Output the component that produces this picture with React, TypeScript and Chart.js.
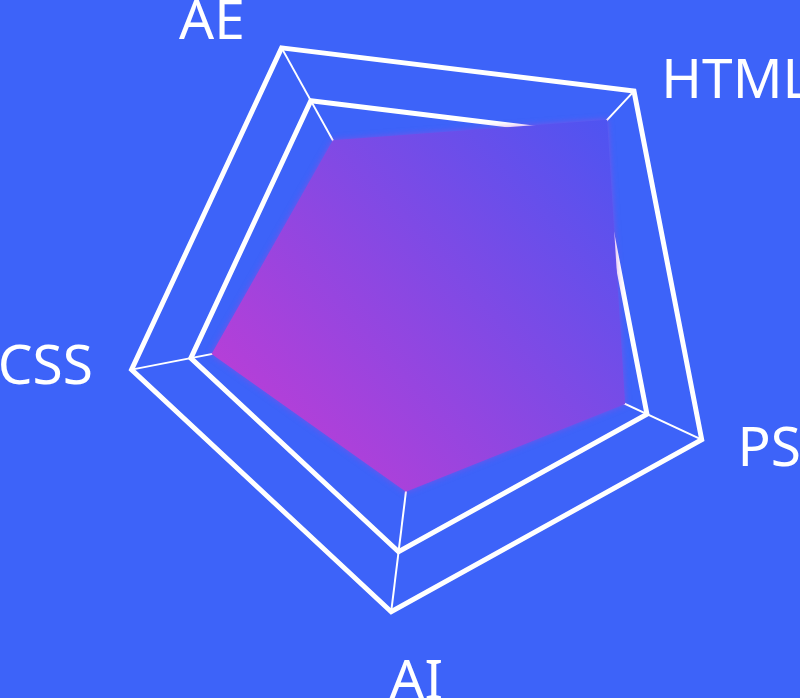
import React, { useEffect, useRef } from "react";
import { Chart, registerables } from "chart.js";

Chart.register(...registerables);

const categories = ["AE", "HTML", "PS", "AI", "CSS"];
const skillValues = [65, 87, 72, 60, 73];
const scaleMin = 0;
const scaleMax = 100;
const scaleStep = 20;
const ringValues = [80, 100];

const BG = "rgb(61,99,249)";

// per-label placement tweaks (alignment and nudges around the axis end)
const labelStyle = [
  { align: "center", dx: -58, dy: 12 },
  { align: "left", dx: 11, dy: 24 },
  { align: "left", dx: 14, dy: 16 },
  { align: "left", dx: 1, dy: 63 },
  { align: "right", dx: -15, dy: 10 },
];

const labelPlugin = {
  id: "customPointLabels",
  afterDraw(chart: any) {
    const scale = chart.scales.r;
    const ctx = chart.ctx;
    ctx.save();
    ctx.fillStyle = "#ffffff";
    ctx.font = '400 55px "Noto Sans"';
    ctx.textBaseline = "alphabetic";
    categories.forEach((label, i) => {
      const p = scale.getPointPosition(i, scale.drawingArea + 24);
      const st = labelStyle[i];
      ctx.textAlign = st.align;
      ctx.fillText(label, p.x + st.dx, p.y + st.dy);
    });
    ctx.restore();
  },
};

const shadowPlugin = {
  id: "fillShadow",
  beforeDatasetsDraw(chart: any) {
    const ctx = chart.ctx;
    ctx.save();
    ctx.shadowColor = "rgba(170,70,220,0.55)";
    ctx.shadowBlur = 6;
  },
  afterDatasetsDraw(chart: any) {
    chart.ctx.restore();
  },
};

export default function App() {
  const ref = useRef<HTMLCanvasElement | null>(null);

  useEffect(() => {
    if (!ref.current) return;
    const chart = new Chart(ref.current, {
      type: "radar",
      data: {
        labels: categories,
        datasets: [
          {
            data: skillValues,
            fill: true,
            borderWidth: 0,
            pointRadius: 0,
            pointHoverRadius: 0,
            backgroundColor: (c: any) => {
              const ch = c.chart;
              const scale = ch.scales && ch.scales.r;
              if (!scale || !scale.drawingArea) return "rgba(140,70,225,1)";
              const R = scale.drawingArea;
              const x0 = scale.xCenter - 0.72 * R;
              const y0 = scale.yCenter + 0.56 * R;
              const x1 = scale.xCenter + 0.6 * R;
              const y1 = scale.yCenter - 0.63 * R;
              const g = ch.ctx.createLinearGradient(x0, y0, x1, y1);
              g.addColorStop(0, "#c83bd3");
              g.addColorStop(1, "#4e54f1");
              return g;
            },
          },
        ],
      },
      options: {
        animation: false,
        responsive: true,
        maintainAspectRatio: false,
        layout: { padding: { left: 126, right: 70, top: 10, bottom: 84 } },
        plugins: {
          legend: { display: false },
          tooltip: { enabled: false },
        },
        scales: {
          r: {
            min: scaleMin,
            max: scaleMax,
            startAngle: -29,
            ticks: { display: false, stepSize: scaleStep },
            pointLabels: { display: false },
            grid: {
              color: "#ffffff",
              lineWidth: (c: any) =>
                c.tick && ringValues.includes(c.tick.value) ? 5 : 0,
            },
            angleLines: { color: "#ffffff", lineWidth: 2 },
          },
        },
      },
      plugins: [shadowPlugin, labelPlugin],
    });
    return () => chart.destroy();
  }, []);

  return (
    <div
      style={{
        position: "fixed",
        left: 0,
        top: 0,
        width: 800,
        height: 698,
        background: BG,
      }}
    >
      <canvas ref={ref} />
    </div>
  );
}
